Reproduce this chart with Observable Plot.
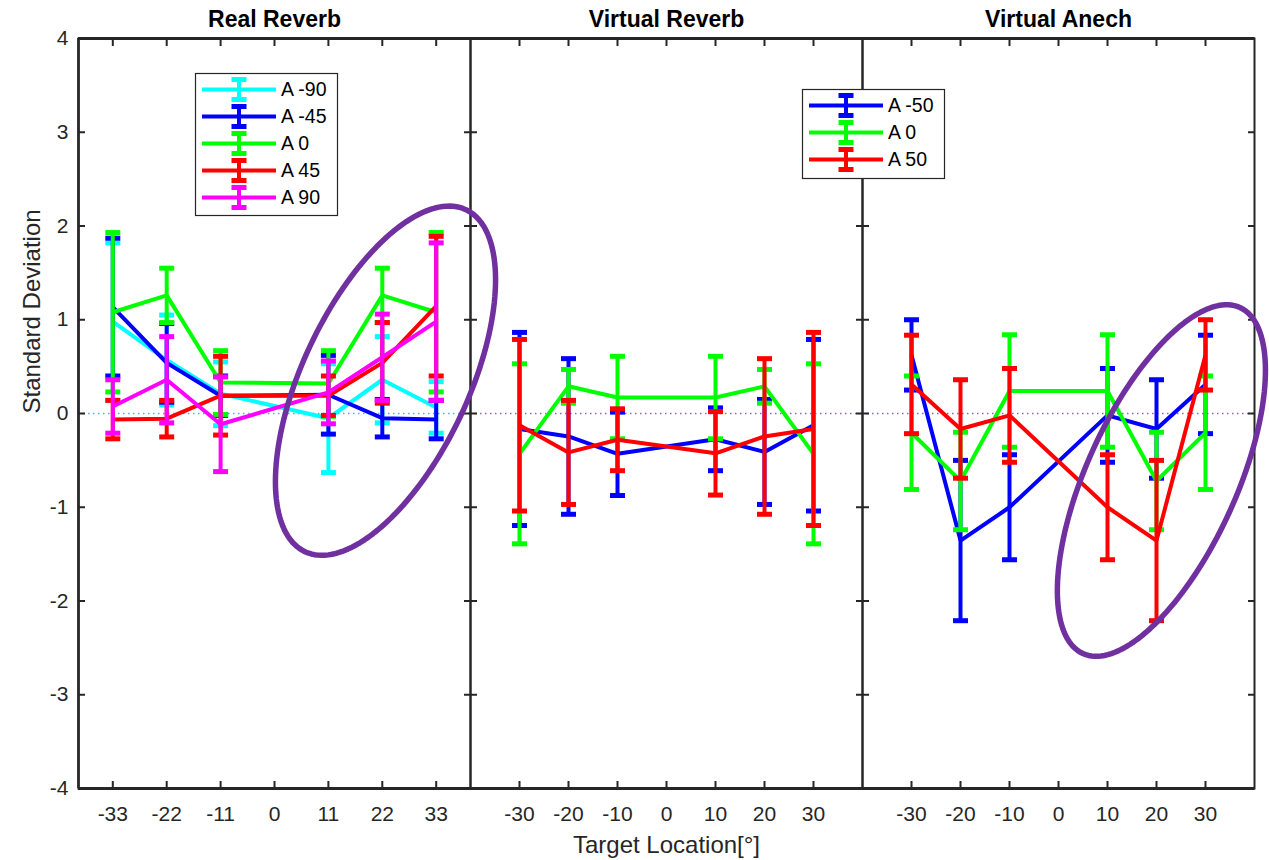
<!DOCTYPE html>
<html>
<head>
<meta charset="utf-8">
<script src="https://cdn.jsdelivr.net/npm/d3@7"></script>
<script src="https://cdn.jsdelivr.net/npm/@observablehq/plot@0.6"></script>
<style>
html, body { margin: 0; padding: 0; background: #fff; }
#chart { position: relative; width: 1269px; height: 860px; overflow: hidden; font-family: "Liberation Sans", Arial, sans-serif; }
#chart svg { position: absolute; top: 0; }
</style>
</head>
<body>
<div id="chart"></div>
<script>
// ---------------- data ----------------
const panelTitles = ["Real Reverb", "Virtual Reverb", "Virtual Anech"];
const xLabel = "Target Location[°]";
const yLabel = "Standard Deviation";

const realX = [-33, -22, -11, 11, 22, 33];
const realTicks = [-33, -22, -11, 0, 11, 22, 33];
const virtX = [-30, -20, -10, 10, 20, 30];
const virtTicks = [-30, -20, -10, 0, 10, 20, 30];
const yTicks = [-4, -3, -2, -1, 0, 1, 2, 3, 4];

const realNames = ["A -90", "A -45", "A 0", "A 45", "A 90"];
const realColors = ["#00FFFF", "#0000FF", "#00FF00", "#FF0000", "#FF00FF"];
const realMeanAm90 = [0.98, 0.57, 0.21, -0.05, 0.36, 0.065];
const realErrAm90  = [0.84, 0.48, 0.34, 0.58, 0.46, 0.275];
const realMeanAm45 = [1.135, 0.54, 0.19, 0.20, -0.05, -0.065];
const realErrAm45  = [0.735, 0.42, 0.21, 0.42, 0.20, 0.205];
const realMeanA0   = [1.08, 1.26, 0.33, 0.32, 1.26, 1.08];
const realErrA0    = [0.85, 0.29, 0.34, 0.35, 0.29, 0.85];
const realMeanA45  = [-0.065, -0.055, 0.19, 0.19, 0.54, 1.145];
const realErrA45   = [0.205, 0.195, 0.42, 0.21, 0.43, 0.745];
const realMeanA90  = [0.075, 0.36, -0.115, 0.225, 0.60, 0.98];
const realErrA90   = [0.285, 0.46, 0.505, 0.335, 0.46, 0.84];

const virtNames = ["A -50", "A 0", "A 50"];
const virtColors = ["#0000FF", "#00FF00", "#FF0000"];
const vrevMeanAm50 = [-0.165, -0.245, -0.43, -0.275, -0.41, -0.125];
const vrevErrAm50  = [1.03, 0.83, 0.445, 0.335, 0.56, 0.915];
const vrevMeanA0   = [-0.43, 0.29, 0.17, 0.17, 0.29, -0.43];
const vrevErrA0    = [0.96, 0.18, 0.44, 0.44, 0.18, 0.96];
const vrevMeanA50  = [-0.125, -0.415, -0.28, -0.425, -0.245, -0.165];
const vrevErrA50   = [0.915, 0.555, 0.33, 0.445, 0.83, 1.03];

const vaneMeanAm50 = [0.625, -1.355, -1.0, -0.02, -0.165, 0.31];
const vaneErrAm50  = [0.375, 0.855, 0.56, 0.50, 0.525, 0.525];
const vaneMeanA0   = [-0.205, -0.72, 0.24, 0.24, -0.72, -0.205];
const vaneErrA0    = [0.605, 0.52, 0.60, 0.60, 0.52, 0.605];
const vaneMeanA50  = [0.31, -0.165, -0.02, -1.0, -1.355, 0.625];
const vaneErrA50   = [0.525, 0.525, 0.50, 0.56, 0.855, 0.375];

// highlight ellipses: centre in data units
const highlightPanel = [0, 2];
const highlightCx = [22.65, 21.0];
const highlightCy = [0.35, -0.715];

// ---------------- layout ----------------
const pageW = 1269, pageH = 860;
const plotTop = 38, plotBottom = 788;
const panelLeft = [78, 470, 862];
const panelW = 392;
const xDomain = [-40, 40], yDomain = [-4, 4];
const kx = panelW / (xDomain[1] - xDomain[0]);
const ky = (plotBottom - plotTop) / (yDomain[1] - yDomain[0]);
const ink = "#262626";
const fontFam = '"Liberation Sans", Arial, sans-serif';

const capSymbol = { draw(ctx) { ctx.moveTo(-7.5, 0); ctx.lineTo(7.5, 0); } };

function seriesRows(names, colors, xs, means, errs) {
  return names.map((n, s) => ({
    name: n, color: colors[s],
    rows: xs.map((x, i) => ({ x, m: means[s][i], e: errs[s][i] }))
  }));
}

const panels = [
  { xs: realX, ticks: realTicks, zero: "#5aa6e6",
    series: seriesRows(realNames, realColors, realX,
      [realMeanAm90, realMeanAm45, realMeanA0, realMeanA45, realMeanA90],
      [realErrAm90, realErrAm45, realErrA0, realErrA45, realErrA90]) },
  { xs: virtX, ticks: virtTicks, zero: "#8a6aaa",
    series: seriesRows(virtNames, virtColors, virtX,
      [vrevMeanAm50, vrevMeanA0, vrevMeanA50], [vrevErrAm50, vrevErrA0, vrevErrA50]) },
  { xs: virtX, ticks: virtTicks, zero: "#8a6aaa",
    series: seriesRows(virtNames, virtColors, virtX,
      [vaneMeanAm50, vaneMeanA0, vaneMeanA50], [vaneErrAm50, vaneErrA0, vaneErrA50]) }
];

function ellipsePoints(cx, cy, a, b, thetaDeg) {
  const th = thetaDeg * Math.PI / 180, pts = [];
  for (let k = 0; k <= 160; k++) {
    const t = k / 160 * 2 * Math.PI;
    const px = a * Math.cos(t) * Math.cos(th) - b * Math.sin(t) * Math.sin(th);
    const py = a * Math.cos(t) * Math.sin(th) + b * Math.sin(t) * Math.cos(th);
    pts.push({ x: cx + px / kx, y: cy + py / ky });
  }
  return pts;
}
const ellipseShape = [[189, 83, 64.8], [190, 75, 65.6]];

const chart = document.getElementById("chart");
const zOrder = [3, 1, 2];

panels.forEach((p, idx) => {
  const isLeft = idx === 0;
  const mL = isLeft ? panelLeft[0] : 0;
  const marks = [];
  marks.push(Plot.ruleY([0], { stroke: p.zero, strokeWidth: 1.6, strokeDasharray: "1.5,3.5" }));
  for (const s of p.series) {
    marks.push(Plot.line(s.rows, { x: "x", y: "m", stroke: s.color, strokeWidth: 4, strokeLinejoin: "miter", strokeLinecap: "butt" }));
    marks.push(Plot.ruleX(s.rows, { x: "x", y1: d => d.m - d.e, y2: d => d.m + d.e, stroke: s.color, strokeWidth: 4 }));
    marks.push(Plot.dot(s.rows, { x: "x", y: d => d.m + d.e, symbol: capSymbol, r: 7, fill: "none", stroke: s.color, strokeWidth: 5 }));
    marks.push(Plot.dot(s.rows, { x: "x", y: d => d.m - d.e, symbol: capSymbol, r: 7, fill: "none", stroke: s.color, strokeWidth: 5 }));
  }
  // frame & axes
  marks.push(Plot.frame({ stroke: ink, strokeWidth: 2 }));
  marks.push(Plot.ruleY([yDomain[0], yDomain[1]], { stroke: ink, strokeWidth: 3 }));
  if (isLeft) marks.push(Plot.ruleX([xDomain[0]], { stroke: ink, strokeWidth: 2.6 }));
  marks.push(Plot.axisX(p.ticks, { anchor: "bottom", tickSize: -7, tickPadding: 25, strokeWidth: 2,
    tickFormat: d => String(d), fontSize: 21, fill: ink, label: null }));
  marks.push(Plot.axisX(p.ticks, { anchor: "top", tickSize: -7, strokeWidth: 2, tickFormat: () => "", label: null }));
  marks.push(Plot.axisY(yTicks, { anchor: "left", tickSize: -7, tickPadding: 17, strokeWidth: 2,
    tickFormat: isLeft ? (d => String(d)) : (() => ""), fontSize: 21, fill: ink, label: null }));
  marks.push(Plot.axisY(yTicks, { anchor: "right", tickSize: -7, strokeWidth: 2, tickFormat: () => "", label: null }));
  // titles & labels
  marks.push(Plot.text([panelTitles[idx]], { text: d => d, frameAnchor: "top", lineAnchor: "middle", dy: -19, fontSize: 23, fontWeight: "bold", fill: "#000" }));
  if (isLeft) marks.push(Plot.text([yLabel], { text: d => d, frameAnchor: "left", dx: -46, rotate: -90, fontSize: 24, fill: ink }));
  if (idx === 1) marks.push(Plot.text([xLabel], { text: d => d, frameAnchor: "bottom", lineAnchor: "middle", dy: 57, fontSize: 24, fill: ink }));
  // highlight ellipse
  const hi = highlightPanel.indexOf(idx);
  if (hi >= 0) {
    const [a, b, th] = ellipseShape[hi];
    marks.push(Plot.line(ellipsePoints(highlightCx[hi], highlightCy[hi], a, b, th),
      { x: "x", y: "y", stroke: "#7030A0", strokeWidth: 5.5, curve: "linear-closed" }));
  }
  const svg = Plot.plot({
    width: mL + panelW, height: pageH,
    marginLeft: mL, marginRight: 0, marginTop: plotTop, marginBottom: pageH - plotBottom,
    x: { domain: xDomain, axis: null },
    y: { domain: yDomain, axis: null },
    style: { background: "transparent", overflow: "visible", color: ink, fontFamily: fontFam, fontSize: "21px" },
    marks
  });
  svg.style.left = (idx === 0 ? 0 : panelLeft[idx]) + "px";
  svg.style.zIndex = zOrder[idx];
  chart.appendChild(svg);
});

// ---------------- legends (overlay) ----------------
const legendSpecs = [
  { x0: 195, y0: 73, w: 142, h: 142, names: realNames, colors: realColors },
  { x0: 802, y0: 89, w: 142, h: 89, names: virtNames, colors: virtColors }
];
const ov = d3.select(chart).append("svg")
  .attr("width", pageW).attr("height", pageH)
  .style("left", "0px").style("z-index", 10).style("pointer-events", "none");
legendSpecs.forEach(L => {
  const g = ov.append("g").attr("transform", `translate(${L.x0},${L.y0})`);
  g.append("rect").attr("x", 0.5).attr("y", 0.5).attr("width", L.w).attr("height", L.h)
    .attr("fill", "#fff").attr("stroke", ink).attr("stroke-width", 1.2);
  const rowH = 27, firstY = 16.5;
  L.names.forEach((n, i) => {
    const y = firstY + i * rowH;
    const r = g.append("g").attr("transform", `translate(0,${y})`);
    r.append("line").attr("x1", 7).attr("x2", 81).attr("y1", 0).attr("y2", 0)
      .attr("stroke", L.colors[i]).attr("stroke-width", 4);
    r.append("line").attr("x1", 44).attr("x2", 44).attr("y1", -10).attr("y2", 10)
      .attr("stroke", L.colors[i]).attr("stroke-width", 4);
    [-10, 10].forEach(cy => r.append("line").attr("x1", 36.5).attr("x2", 51.5).attr("y1", cy).attr("y2", cy)
      .attr("stroke", L.colors[i]).attr("stroke-width", 5));
    r.append("text").attr("x", 86).attr("y", 0).attr("dy", "0.35em")
      .attr("font-family", fontFam).attr("font-size", 19.5).attr("fill", "#000").text(n);
  });
});
</script>
</body>
</html>
